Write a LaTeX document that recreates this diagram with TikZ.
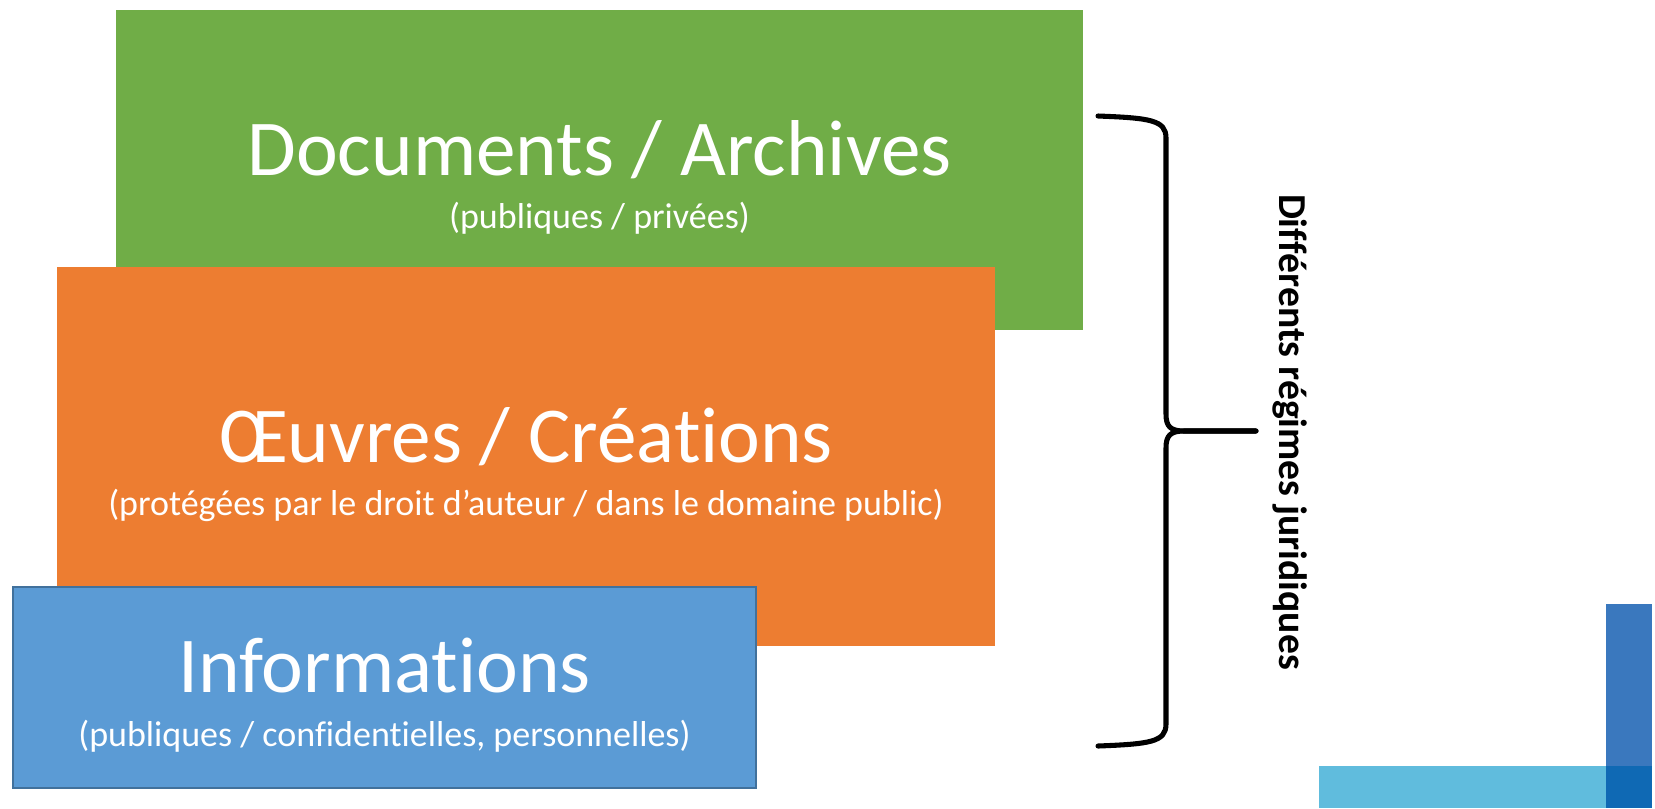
\documentclass[tikz,border=0pt]{standalone}
\usepackage{fontspec}
\setmainfont[RawFeature={-liga;-dlig;-clig}]{Carlito}
\usetikzlibrary{positioning, calc}
\definecolor{mygreen}{HTML}{70AD47}
\definecolor{myorange}{HTML}{ED7D31}
\definecolor{myblue}{HTML}{5B9BD5}
\definecolor{myblueline}{HTML}{41719C}
\definecolor{barblue}{HTML}{3A78BE}
\definecolor{barcyan}{HTML}{60BCDD}
\definecolor{bardark}{HTML}{0F69B4}
\newcommand\nolig{\kern0pt}
\tikzset{ % box and text styles
  my box/.style 2 args={rectangle,inner sep=0,minimum width=#1,minimum height=#2},
  my title/.style={text=white,inner sep=0,anchor=base,font=\fontsize{59.4}{60}\selectfont},
  my sub/.style={text=white,inner sep=0,anchor=base,font=\fontsize{27}{28}\selectfont},
  brace line/.style={line width=3.8pt,line join=round,line cap=round}
}

\begin{document}
\begin{tikzpicture}[x=0.75pt,y=-0.75pt]
\useasboundingbox (0,0) rectangle (1655,808);

% the three layers
\node[my box={725.25pt}{240pt},fill=mygreen]   (docs)  at (599.5,170)   {};
\node[my title] (docs title) at ($(docs)+(0,5)$)    {Documents / Archives};
\node[my sub]   (docs sub)   at ($(docs)+(0,58.5)$) {(publiques / privées)};

\node[my box={703.5pt}{284.25pt},fill=myorange] (works) at (526,456.5)   {};
\node[my title] (works title) at ($(works)+(0,5.5)$)  {Œuvres / Créat\nolig ions};
\node[my sub]   (works sub)   at ($(works)+(0,58.5)$) {(protégées par le droit d’auteur / dans le domaine public)};

\node[my box={557.25pt}{150.75pt},fill=myblue,draw=myblueline,line width=0.9pt] (infos) at (384.5,687.5) {};
\node[my title] (infos title) at ($(infos)+(0,4.5)$)  {Informat\nolig ions};
\node[my sub]   (infos sub)   at ($(infos)+(0,58.5)$) {(publiques / confident\nolig ielles, personnelles)};

% brace
\coordinate (brace top) at (1098,116);
\coordinate (brace tip) at (1256,431);
\coordinate (brace bot) at (1098,746);
\draw[brace line] (brace top) .. controls +(52,2) and +(0,-18) .. (1166,138) -- (1166,414)
  .. controls +(0,12) and +(-14,0) .. (1184,431) -- (brace tip);
\draw[brace line] (brace tip) -- (1184,431) .. controls +(-14,0) and +(0,-12) .. (1166,448)
  -- (1166,724) .. controls +(0,18) and +(52,-2) .. (brace bot);
\node[rotate=-90,inner sep=0,font=\bfseries\fontsize{29.7}{30}\selectfont] (regimes) at (1290,432) {Dif\nolig f\nolig érents régimes juridiques};

% corner bars
\fill[barblue] (1606,604) rectangle (1652,766);
\fill[barcyan] (1319,766) rectangle (1606,808);
\fill[bardark] (1606,766) rectangle (1652,808);
\end{tikzpicture}
\end{document}
